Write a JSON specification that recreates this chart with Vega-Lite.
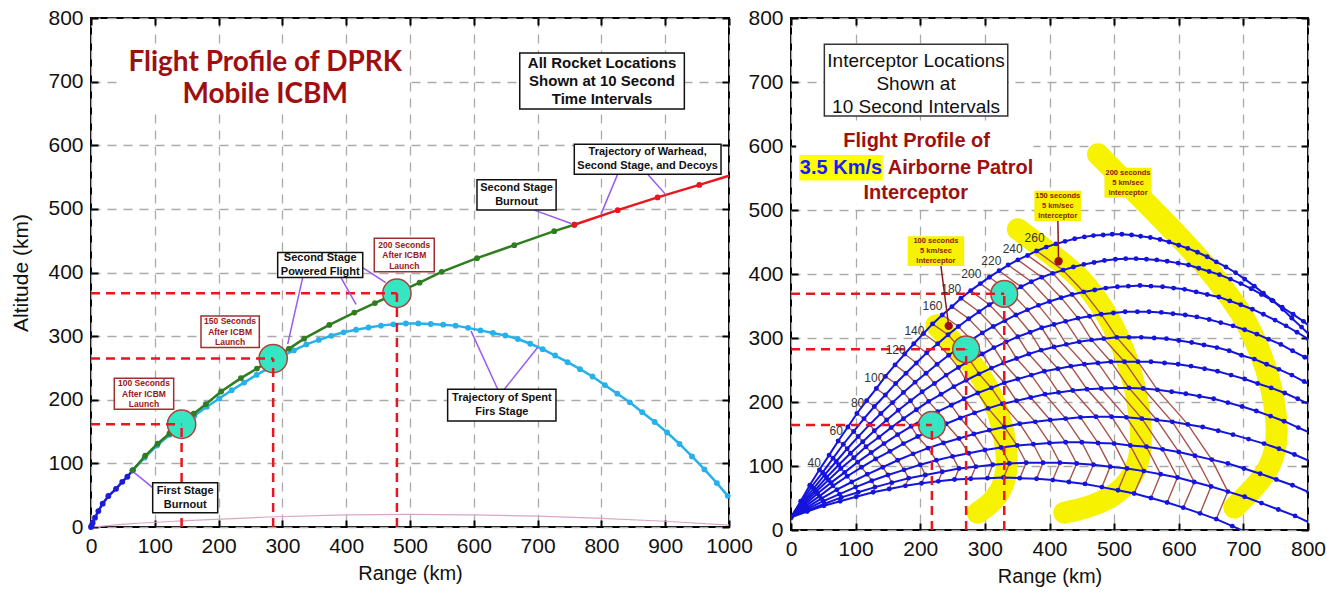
{
  "$schema": "https://vega.github.io/schema/vega-lite/v6.json",
  "background": "white",
  "padding": {"left": 9, "top": 6, "right": 5, "bottom": 5},
  "spacing": 62,
  "bounds": "flush",
  "config": {
    "view": {"stroke": "#000", "strokeWidth": 2},
    "axis": {
      "labelFont": "Liberation Sans, Arial, sans-serif",
      "labelFontSize": 21, "labelColor": "#111",
      "titleFont": "Liberation Sans, Arial, sans-serif", "titleFontSize": 20, "titleFontWeight": "normal", "titleColor": "#111",
      "grid": true, "gridColor": "#aaaaaa", "gridDash": [9, 7], "gridWidth": 1.3,
      "domain": false, "ticks": true, "tickSize": -7, "tickWidth": 2, "tickColor": "#000",
      "labelPadding": 15, "labelFlush": false, "labelOverlap": false, "format": "d"
    },
    "text": {"font": "Liberation Sans, Arial, sans-serif"}
  },
  "datasets": {
    "lmain": [
      {"s":"b","x":0,"y":0},{"s":"b","x":1,"y":2},{"s":"b","x":2.6,"y":6.8},{"s":"b","x":6.3,"y":14.7},{"s":"b","x":11.5,"y":25},{"s":"b","x":18.3,"y":36.7},{"s":"b","x":27.2,"y":48.7},{"s":"b","x":39.2,"y":60},{"s":"b","x":49,"y":71},{"s":"b","x":57,"y":79},{"s":"b","x":65.3,"y":89.1},
      {"s":"g","x":65.3,"y":89.1},{"s":"g","x":85,"y":112},{"s":"g","x":104.5,"y":131},{"s":"g","x":123,"y":147},{"s":"g","x":141,"y":161.5},{"s":"g","x":161,"y":178},{"s":"g","x":180,"y":193},{"s":"g","x":204,"y":213},{"s":"g","x":235,"y":234},{"s":"g","x":260,"y":249},{"s":"g","x":286,"y":265},{"s":"g","x":310,"y":280},{"s":"g","x":334,"y":296},{"s":"g","x":373.5,"y":317.6},{"s":"g","x":412.7,"y":337},{"s":"g","x":445,"y":352},{"s":"g","x":478,"y":367.4},{"s":"g","x":515,"y":384},{"s":"g","x":549.6,"y":401},{"s":"g","x":605,"y":422.5},{"s":"g","x":663.5,"y":443},{"s":"g","x":726,"y":465},{"s":"g","x":757.6,"y":475},
      {"s":"r","x":757.6,"y":475},{"s":"r","x":825.5,"y":498},{"s":"r","x":888,"y":518},{"s":"r","x":953.5,"y":537.7},{"s":"r","x":1000,"y":552}
    ],
    "lspent": [
      {"x":65,"y":89},{"x":84,"y":109},{"x":103.5,"y":128},{"x":123,"y":145},{"x":142.5,"y":160},{"x":162,"y":175},{"x":181.5,"y":189},{"x":201,"y":202},{"x":220.5,"y":215},{"x":240,"y":227},{"x":259.5,"y":239},{"x":279,"y":250},{"x":298.5,"y":268},{"x":318,"y":277.5},{"x":337.5,"y":287},{"x":357,"y":294},{"x":376.5,"y":300.5},{"x":396,"y":306},{"x":415.5,"y":310},{"x":435,"y":313.5},{"x":454.5,"y":316.5},{"x":474,"y":318.5},{"x":493.5,"y":319.8},{"x":513,"y":320},{"x":532.5,"y":319},{"x":552,"y":318},{"x":571.5,"y":316.5},{"x":591,"y":313},{"x":610.5,"y":309},{"x":630,"y":305},{"x":649.5,"y":301},{"x":669,"y":295.5},{"x":688.5,"y":288},{"x":708,"y":279.5},{"x":727.5,"y":269.5},{"x":747,"y":259},{"x":766.5,"y":248},{"x":786,"y":236.5},{"x":805.5,"y":223},{"x":825,"y":209.5},{"x":844.5,"y":196},{"x":864,"y":180.5},{"x":883.5,"y":165},{"x":903,"y":148.5},{"x":922.5,"y":130.5},{"x":942,"y":111},{"x":961.5,"y":90.5},{"x":981,"y":69},{"x":998,"y":49}
    ],
    "lpink": [{"x":0,"y":0},{"x":60,"y":5},{"x":150,"y":10},{"x":277,"y":15.7},{"x":400,"y":19},{"x":500,"y":20},{"x":600,"y":19},{"x":700,"y":17},{"x":800,"y":13.6},{"x":900,"y":9},{"x":1000,"y":3}],
    "lcirc": [{"x":142,"y":161.5},{"x":285.5,"y":264.7},{"x":479.5,"y":367.4}],
    "ldash": [
      {"x":0,"x2":142,"y":161.5,"y2":161.5},{"x":142,"x2":142,"y":0,"y2":161.5},
      {"x":0,"x2":285.5,"y":264.7,"y2":264.7},{"x":285.5,"x2":285.5,"y":0,"y2":264.7},
      {"x":0,"x2":479.5,"y":367.4,"y2":367.4},{"x":479.5,"x2":479.5,"y":0,"y2":367.4}
    ],
    "larrow": [
      {"x":96.7,"y":61.8,"x2":67.9,"y2":85.4},
      {"x":331.8,"y":392,"x2":308.3,"y2":287.3},
      {"x":391.8,"y":392,"x2":415.4,"y2":350},
      {"x":425.8,"y":407.7,"x2":462,"y2":384},
      {"x":694.8,"y":498,"x2":752.4,"y2":477},
      {"x":825.5,"y":554.6,"x2":799.4,"y2":491.7},
      {"x":872.5,"y":554.6,"x2":901.3,"y2":522},
      {"x":637.5,"y":216.5,"x2":595.6,"y2":308.2},
      {"x":647.8,"y":216.5,"x2":700,"y2":282}
    ],
    "lboxk": [
      {"x":672,"x2":930,"y":657,"y2":745},
      {"x":605,"x2":729,"y":498.4,"y2":545.6},
      {"x":757.5,"x2":987.5,"y":554.6,"y2":601.7},
      {"x":292.6,"x2":425.9,"y":392,"y2":431.3},
      {"x":96.7,"x2":198.6,"y":22.5,"y2":69.7},
      {"x":559,"x2":728.8,"y":166.7,"y2":216.5}
    ],
    "lboxr": [
      {"x":444,"x2":538,"y":401,"y2":454},
      {"x":172.4,"x2":263.8,"y":282,"y2":331.8},
      {"x":36.5,"x2":129.6,"y":185,"y2":233.8}
    ],
    "ltxtk": [
      {"x":667,"y":533,"lab":"Second Stage\nBurnout"},
      {"x":872.5,"y":589.2,"lab":"Trajectory of Warhead,\nSecond Stage, and Decoys"},
      {"x":359.3,"y":422.7,"lab":"Second Stage\nPowered Flight"},
      {"x":147.7,"y":57.1,"lab":"First Stage\nBurnout"},
      {"x":644,"y":202.6,"lab":"Trajectory of Spent\nFirs Stage"}
    ],
    "ltxtr": [
      {"x":491,"y":444,"lab":"200 Seconds\nAfter ICBM\nLaunch"},
      {"x":218,"y":323.5,"lab":"150 Seconds\nAfter ICBM\nLaunch"},
      {"x":83,"y":225.9,"lab":"100 Seconds\nAfter ICBM\nLaunch"}
    ],
    "traj": [
      {"k":1,"t":0,"x":0,"y":20},{"k":1,"t":10,"x":15,"y":45},{"k":1,"t":20,"x":29,"y":70},{"k":1,"t":30,"x":44,"y":94},{"k":1,"t":40,"x":59,"y":117},{"k":1,"t":50,"x":73,"y":139},{"k":1,"t":60,"x":88,"y":161},{"k":1,"t":70,"x":102,"y":182},{"k":1,"t":80,"x":117,"y":202},{"k":1,"t":90,"x":132,"y":221},{"k":1,"t":100,"x":146,"y":240},{"k":1,"t":110,"x":161,"y":258},{"k":1,"t":120,"x":176,"y":275},{"k":1,"t":130,"x":190,"y":291},{"k":1,"t":140,"x":205,"y":307},{"k":1,"t":150,"x":219,"y":322},{"k":1,"t":160,"x":234,"y":336},{"k":1,"t":170,"x":249,"y":349},{"k":1,"t":180,"x":263,"y":362},{"k":1,"t":190,"x":278,"y":374},{"k":1,"t":200,"x":293,"y":385},{"k":1,"t":210,"x":307,"y":395},{"k":1,"t":220,"x":322,"y":405},{"k":1,"t":230,"x":336,"y":414},{"k":1,"t":240,"x":351,"y":422},{"k":1,"t":250,"x":366,"y":429},{"k":1,"t":260,"x":380,"y":436},{"k":1,"t":270,"x":395,"y":442},{"k":1,"t":280,"x":410,"y":447},{"k":1,"t":290,"x":424,"y":451},{"k":1,"t":300,"x":439,"y":455},{"k":1,"t":310,"x":454,"y":458},{"k":1,"t":320,"x":468,"y":460},{"k":1,"t":330,"x":483,"y":461},{"k":1,"t":340,"x":497,"y":462},{"k":1,"t":350,"x":512,"y":462},{"k":1,"t":360,"x":527,"y":461},{"k":1,"t":370,"x":541,"y":459},{"k":1,"t":380,"x":556,"y":457},{"k":1,"t":390,"x":571,"y":454},{"k":1,"t":400,"x":585,"y":450},{"k":1,"t":410,"x":600,"y":445},{"k":1,"t":420,"x":614,"y":440},{"k":1,"t":430,"x":629,"y":434},{"k":1,"t":440,"x":644,"y":427},{"k":1,"t":450,"x":658,"y":419},{"k":1,"t":460,"x":673,"y":411},{"k":1,"t":470,"x":688,"y":402},{"k":1,"t":480,"x":702,"y":392},{"k":1,"t":490,"x":717,"y":381},{"k":1,"t":500,"x":731,"y":370},{"k":1,"t":510,"x":746,"y":358},{"k":1,"t":520,"x":761,"y":345},{"k":1,"t":530,"x":775,"y":331},{"k":1,"t":540,"x":790,"y":317},{"k":1,"t":550,"x":805,"y":302},
      {"k":2,"t":0,"x":0,"y":20},{"k":2,"t":10,"x":16,"y":44},{"k":2,"t":20,"x":32,"y":68},{"k":2,"t":30,"x":49,"y":90},{"k":2,"t":40,"x":65,"y":112},{"k":2,"t":50,"x":81,"y":134},{"k":2,"t":60,"x":97,"y":154},{"k":2,"t":70,"x":113,"y":174},{"k":2,"t":80,"x":129,"y":193},{"k":2,"t":90,"x":146,"y":211},{"k":2,"t":100,"x":162,"y":229},{"k":2,"t":110,"x":178,"y":245},{"k":2,"t":120,"x":194,"y":261},{"k":2,"t":130,"x":210,"y":277},{"k":2,"t":140,"x":227,"y":291},{"k":2,"t":150,"x":243,"y":305},{"k":2,"t":160,"x":259,"y":318},{"k":2,"t":170,"x":275,"y":330},{"k":2,"t":180,"x":291,"y":341},{"k":2,"t":190,"x":307,"y":352},{"k":2,"t":200,"x":324,"y":362},{"k":2,"t":210,"x":340,"y":371},{"k":2,"t":220,"x":356,"y":380},{"k":2,"t":230,"x":372,"y":388},{"k":2,"t":240,"x":388,"y":395},{"k":2,"t":250,"x":405,"y":401},{"k":2,"t":260,"x":421,"y":406},{"k":2,"t":270,"x":437,"y":411},{"k":2,"t":280,"x":453,"y":415},{"k":2,"t":290,"x":469,"y":418},{"k":2,"t":300,"x":485,"y":421},{"k":2,"t":310,"x":502,"y":423},{"k":2,"t":320,"x":518,"y":424},{"k":2,"t":330,"x":534,"y":424},{"k":2,"t":340,"x":550,"y":423},{"k":2,"t":350,"x":566,"y":422},{"k":2,"t":360,"x":582,"y":420},{"k":2,"t":370,"x":599,"y":417},{"k":2,"t":380,"x":615,"y":414},{"k":2,"t":390,"x":631,"y":409},{"k":2,"t":400,"x":647,"y":404},{"k":2,"t":410,"x":663,"y":399},{"k":2,"t":420,"x":680,"y":392},{"k":2,"t":430,"x":696,"y":385},{"k":2,"t":440,"x":712,"y":377},{"k":2,"t":450,"x":728,"y":368},{"k":2,"t":460,"x":744,"y":359},{"k":2,"t":470,"x":760,"y":348},{"k":2,"t":480,"x":777,"y":337},{"k":2,"t":490,"x":793,"y":326},{"k":2,"t":500,"x":809,"y":313},
      {"k":3,"t":0,"x":0,"y":20},{"k":3,"t":10,"x":17,"y":43},{"k":3,"t":20,"x":35,"y":65},{"k":3,"t":30,"x":52,"y":86},{"k":3,"t":40,"x":70,"y":107},{"k":3,"t":50,"x":87,"y":127},{"k":3,"t":60,"x":104,"y":146},{"k":3,"t":70,"x":122,"y":165},{"k":3,"t":80,"x":139,"y":182},{"k":3,"t":90,"x":157,"y":199},{"k":3,"t":100,"x":174,"y":215},{"k":3,"t":110,"x":192,"y":231},{"k":3,"t":120,"x":209,"y":245},{"k":3,"t":130,"x":226,"y":259},{"k":3,"t":140,"x":244,"y":273},{"k":3,"t":150,"x":261,"y":285},{"k":3,"t":160,"x":279,"y":297},{"k":3,"t":170,"x":296,"y":308},{"k":3,"t":180,"x":313,"y":318},{"k":3,"t":190,"x":331,"y":327},{"k":3,"t":200,"x":348,"y":336},{"k":3,"t":210,"x":366,"y":344},{"k":3,"t":220,"x":383,"y":351},{"k":3,"t":230,"x":400,"y":357},{"k":3,"t":240,"x":418,"y":363},{"k":3,"t":250,"x":435,"y":368},{"k":3,"t":260,"x":453,"y":372},{"k":3,"t":270,"x":470,"y":375},{"k":3,"t":280,"x":487,"y":378},{"k":3,"t":290,"x":505,"y":380},{"k":3,"t":300,"x":522,"y":381},{"k":3,"t":310,"x":540,"y":382},{"k":3,"t":320,"x":557,"y":381},{"k":3,"t":330,"x":575,"y":380},{"k":3,"t":340,"x":592,"y":378},{"k":3,"t":350,"x":609,"y":376},{"k":3,"t":360,"x":627,"y":372},{"k":3,"t":370,"x":644,"y":368},{"k":3,"t":380,"x":662,"y":364},{"k":3,"t":390,"x":679,"y":358},{"k":3,"t":400,"x":696,"y":352},{"k":3,"t":410,"x":714,"y":345},{"k":3,"t":420,"x":731,"y":337},{"k":3,"t":430,"x":749,"y":328},{"k":3,"t":440,"x":766,"y":319},{"k":3,"t":450,"x":783,"y":309},{"k":3,"t":460,"x":801,"y":298},
      {"k":4,"t":0,"x":0,"y":20},{"k":4,"t":10,"x":18,"y":42},{"k":4,"t":20,"x":37,"y":62},{"k":4,"t":30,"x":55,"y":82},{"k":4,"t":40,"x":74,"y":102},{"k":4,"t":50,"x":92,"y":120},{"k":4,"t":60,"x":111,"y":138},{"k":4,"t":70,"x":129,"y":155},{"k":4,"t":80,"x":148,"y":172},{"k":4,"t":90,"x":166,"y":187},{"k":4,"t":100,"x":185,"y":202},{"k":4,"t":110,"x":203,"y":216},{"k":4,"t":120,"x":222,"y":229},{"k":4,"t":130,"x":240,"y":242},{"k":4,"t":140,"x":259,"y":254},{"k":4,"t":150,"x":277,"y":265},{"k":4,"t":160,"x":296,"y":275},{"k":4,"t":170,"x":314,"y":285},{"k":4,"t":180,"x":333,"y":294},{"k":4,"t":190,"x":351,"y":302},{"k":4,"t":200,"x":370,"y":309},{"k":4,"t":210,"x":388,"y":316},{"k":4,"t":220,"x":407,"y":321},{"k":4,"t":230,"x":425,"y":326},{"k":4,"t":240,"x":444,"y":331},{"k":4,"t":250,"x":462,"y":334},{"k":4,"t":260,"x":480,"y":337},{"k":4,"t":270,"x":499,"y":339},{"k":4,"t":280,"x":517,"y":341},{"k":4,"t":290,"x":536,"y":341},{"k":4,"t":300,"x":554,"y":341},{"k":4,"t":310,"x":573,"y":340},{"k":4,"t":320,"x":591,"y":338},{"k":4,"t":330,"x":610,"y":336},{"k":4,"t":340,"x":628,"y":333},{"k":4,"t":350,"x":647,"y":329},{"k":4,"t":360,"x":665,"y":324},{"k":4,"t":370,"x":684,"y":319},{"k":4,"t":380,"x":702,"y":313},{"k":4,"t":390,"x":721,"y":306},{"k":4,"t":400,"x":739,"y":298},{"k":4,"t":410,"x":758,"y":290},{"k":4,"t":420,"x":776,"y":280},{"k":4,"t":430,"x":795,"y":270},{"k":4,"t":440,"x":813,"y":260},
      {"k":5,"t":0,"x":0,"y":20},{"k":5,"t":10,"x":19,"y":40},{"k":5,"t":20,"x":39,"y":60},{"k":5,"t":30,"x":58,"y":78},{"k":5,"t":40,"x":77,"y":96},{"k":5,"t":50,"x":97,"y":113},{"k":5,"t":60,"x":116,"y":130},{"k":5,"t":70,"x":136,"y":145},{"k":5,"t":80,"x":155,"y":160},{"k":5,"t":90,"x":174,"y":174},{"k":5,"t":100,"x":194,"y":188},{"k":5,"t":110,"x":213,"y":201},{"k":5,"t":120,"x":232,"y":212},{"k":5,"t":130,"x":252,"y":224},{"k":5,"t":140,"x":271,"y":234},{"k":5,"t":150,"x":291,"y":244},{"k":5,"t":160,"x":310,"y":253},{"k":5,"t":170,"x":329,"y":261},{"k":5,"t":180,"x":349,"y":268},{"k":5,"t":190,"x":368,"y":275},{"k":5,"t":200,"x":387,"y":281},{"k":5,"t":210,"x":407,"y":286},{"k":5,"t":220,"x":426,"y":290},{"k":5,"t":230,"x":446,"y":294},{"k":5,"t":240,"x":465,"y":297},{"k":5,"t":250,"x":484,"y":299},{"k":5,"t":260,"x":504,"y":301},{"k":5,"t":270,"x":523,"y":301},{"k":5,"t":280,"x":542,"y":301},{"k":5,"t":290,"x":562,"y":300},{"k":5,"t":300,"x":581,"y":299},{"k":5,"t":310,"x":600,"y":296},{"k":5,"t":320,"x":620,"y":293},{"k":5,"t":330,"x":639,"y":289},{"k":5,"t":340,"x":659,"y":285},{"k":5,"t":350,"x":678,"y":280},{"k":5,"t":360,"x":697,"y":273},{"k":5,"t":370,"x":717,"y":267},{"k":5,"t":380,"x":736,"y":259},{"k":5,"t":390,"x":755,"y":251},{"k":5,"t":400,"x":775,"y":242},{"k":5,"t":410,"x":794,"y":232},{"k":5,"t":420,"x":814,"y":221},
      {"k":6,"t":0,"x":0,"y":20},{"k":6,"t":10,"x":21,"y":39},{"k":6,"t":20,"x":41,"y":57},{"k":6,"t":30,"x":62,"y":74},{"k":6,"t":40,"x":83,"y":90},{"k":6,"t":50,"x":103,"y":106},{"k":6,"t":60,"x":124,"y":121},{"k":6,"t":70,"x":144,"y":135},{"k":6,"t":80,"x":165,"y":149},{"k":6,"t":90,"x":186,"y":162},{"k":6,"t":100,"x":206,"y":174},{"k":6,"t":110,"x":227,"y":185},{"k":6,"t":120,"x":248,"y":195},{"k":6,"t":130,"x":268,"y":205},{"k":6,"t":140,"x":289,"y":214},{"k":6,"t":150,"x":310,"y":222},{"k":6,"t":160,"x":330,"y":230},{"k":6,"t":170,"x":351,"y":236},{"k":6,"t":180,"x":372,"y":242},{"k":6,"t":190,"x":392,"y":248},{"k":6,"t":200,"x":413,"y":252},{"k":6,"t":210,"x":433,"y":256},{"k":6,"t":220,"x":454,"y":259},{"k":6,"t":230,"x":475,"y":261},{"k":6,"t":240,"x":495,"y":263},{"k":6,"t":250,"x":516,"y":263},{"k":6,"t":260,"x":537,"y":263},{"k":6,"t":270,"x":557,"y":263},{"k":6,"t":280,"x":578,"y":261},{"k":6,"t":290,"x":599,"y":259},{"k":6,"t":300,"x":619,"y":256},{"k":6,"t":310,"x":640,"y":252},{"k":6,"t":320,"x":660,"y":248},{"k":6,"t":330,"x":681,"y":242},{"k":6,"t":340,"x":702,"y":236},{"k":6,"t":350,"x":722,"y":229},{"k":6,"t":360,"x":743,"y":222},{"k":6,"t":370,"x":764,"y":214},{"k":6,"t":380,"x":784,"y":205},{"k":6,"t":390,"x":805,"y":195},
      {"k":7,"t":0,"x":0,"y":20},{"k":7,"t":10,"x":22,"y":37},{"k":7,"t":20,"x":44,"y":53},{"k":7,"t":30,"x":65,"y":69},{"k":7,"t":40,"x":87,"y":84},{"k":7,"t":50,"x":109,"y":98},{"k":7,"t":60,"x":131,"y":111},{"k":7,"t":70,"x":153,"y":123},{"k":7,"t":80,"x":174,"y":135},{"k":7,"t":90,"x":196,"y":146},{"k":7,"t":100,"x":218,"y":157},{"k":7,"t":110,"x":240,"y":166},{"k":7,"t":120,"x":262,"y":175},{"k":7,"t":130,"x":284,"y":183},{"k":7,"t":140,"x":305,"y":190},{"k":7,"t":150,"x":327,"y":197},{"k":7,"t":160,"x":349,"y":202},{"k":7,"t":170,"x":371,"y":207},{"k":7,"t":180,"x":393,"y":212},{"k":7,"t":190,"x":414,"y":215},{"k":7,"t":200,"x":436,"y":218},{"k":7,"t":210,"x":458,"y":220},{"k":7,"t":220,"x":480,"y":221},{"k":7,"t":230,"x":502,"y":222},{"k":7,"t":240,"x":523,"y":222},{"k":7,"t":250,"x":545,"y":221},{"k":7,"t":260,"x":567,"y":219},{"k":7,"t":270,"x":589,"y":216},{"k":7,"t":280,"x":611,"y":213},{"k":7,"t":290,"x":632,"y":209},{"k":7,"t":300,"x":654,"y":205},{"k":7,"t":310,"x":676,"y":199},{"k":7,"t":320,"x":698,"y":193},{"k":7,"t":330,"x":720,"y":186},{"k":7,"t":340,"x":742,"y":178},{"k":7,"t":350,"x":763,"y":170},{"k":7,"t":360,"x":785,"y":160},{"k":7,"t":370,"x":807,"y":150},
      {"k":8,"t":0,"x":0,"y":20},{"k":8,"t":10,"x":24,"y":35},{"k":8,"t":20,"x":47,"y":49},{"k":8,"t":30,"x":71,"y":63},{"k":8,"t":40,"x":94,"y":75},{"k":8,"t":50,"x":118,"y":87},{"k":8,"t":60,"x":142,"y":98},{"k":8,"t":70,"x":165,"y":109},{"k":8,"t":80,"x":189,"y":119},{"k":8,"t":90,"x":212,"y":128},{"k":8,"t":100,"x":236,"y":136},{"k":8,"t":110,"x":260,"y":143},{"k":8,"t":120,"x":283,"y":150},{"k":8,"t":130,"x":307,"y":156},{"k":8,"t":140,"x":330,"y":161},{"k":8,"t":150,"x":354,"y":166},{"k":8,"t":160,"x":378,"y":169},{"k":8,"t":170,"x":401,"y":172},{"k":8,"t":180,"x":425,"y":174},{"k":8,"t":190,"x":448,"y":176},{"k":8,"t":200,"x":472,"y":177},{"k":8,"t":210,"x":496,"y":177},{"k":8,"t":220,"x":519,"y":176},{"k":8,"t":230,"x":543,"y":174},{"k":8,"t":240,"x":566,"y":172},{"k":8,"t":250,"x":590,"y":169},{"k":8,"t":260,"x":614,"y":165},{"k":8,"t":270,"x":637,"y":161},{"k":8,"t":280,"x":661,"y":155},{"k":8,"t":290,"x":684,"y":149},{"k":8,"t":300,"x":708,"y":142},{"k":8,"t":310,"x":732,"y":135},{"k":8,"t":320,"x":755,"y":127},{"k":8,"t":330,"x":779,"y":118},{"k":8,"t":340,"x":802,"y":108},
      {"k":9,"t":0,"x":0,"y":20},{"k":9,"t":10,"x":25,"y":33},{"k":9,"t":20,"x":50,"y":45},{"k":9,"t":30,"x":75,"y":56},{"k":9,"t":40,"x":100,"y":67},{"k":9,"t":50,"x":125,"y":77},{"k":9,"t":60,"x":150,"y":86},{"k":9,"t":70,"x":175,"y":94},{"k":9,"t":80,"x":200,"y":102},{"k":9,"t":90,"x":225,"y":109},{"k":9,"t":100,"x":250,"y":115},{"k":9,"t":110,"x":275,"y":120},{"k":9,"t":120,"x":300,"y":125},{"k":9,"t":130,"x":325,"y":129},{"k":9,"t":140,"x":350,"y":132},{"k":9,"t":150,"x":375,"y":134},{"k":9,"t":160,"x":400,"y":136},{"k":9,"t":170,"x":425,"y":137},{"k":9,"t":180,"x":450,"y":137},{"k":9,"t":190,"x":475,"y":136},{"k":9,"t":200,"x":500,"y":135},{"k":9,"t":210,"x":525,"y":132},{"k":9,"t":220,"x":550,"y":130},{"k":9,"t":230,"x":575,"y":126},{"k":9,"t":240,"x":600,"y":122},{"k":9,"t":250,"x":625,"y":116},{"k":9,"t":260,"x":651,"y":110},{"k":9,"t":270,"x":676,"y":104},{"k":9,"t":280,"x":701,"y":96},{"k":9,"t":290,"x":726,"y":88},{"k":9,"t":300,"x":751,"y":79},{"k":9,"t":310,"x":776,"y":70},{"k":9,"t":320,"x":801,"y":59},
      {"k":10,"t":0,"x":0,"y":20},{"k":10,"t":10,"x":26,"y":31},{"k":10,"t":20,"x":52,"y":41},{"k":10,"t":30,"x":78,"y":51},{"k":10,"t":40,"x":104,"y":59},{"k":10,"t":50,"x":130,"y":67},{"k":10,"t":60,"x":156,"y":74},{"k":10,"t":70,"x":182,"y":81},{"k":10,"t":80,"x":208,"y":86},{"k":10,"t":90,"x":234,"y":91},{"k":10,"t":100,"x":260,"y":96},{"k":10,"t":110,"x":286,"y":99},{"k":10,"t":120,"x":312,"y":102},{"k":10,"t":130,"x":338,"y":104},{"k":10,"t":140,"x":364,"y":105},{"k":10,"t":150,"x":390,"y":105},{"k":10,"t":160,"x":416,"y":105},{"k":10,"t":170,"x":442,"y":104},{"k":10,"t":180,"x":468,"y":102},{"k":10,"t":190,"x":494,"y":99},{"k":10,"t":200,"x":520,"y":96},{"k":10,"t":210,"x":546,"y":92},{"k":10,"t":220,"x":572,"y":87},{"k":10,"t":230,"x":598,"y":82},{"k":10,"t":240,"x":624,"y":75},{"k":10,"t":250,"x":650,"y":68},{"k":10,"t":260,"x":676,"y":60},{"k":10,"t":270,"x":702,"y":52},{"k":10,"t":280,"x":728,"y":42},{"k":10,"t":290,"x":754,"y":32},{"k":10,"t":300,"x":780,"y":22},{"k":10,"t":310,"x":806,"y":10},
      {"k":11,"t":0,"x":0,"y":20},{"k":11,"t":10,"x":25,"y":29},{"k":11,"t":20,"x":51,"y":38},{"k":11,"t":30,"x":76,"y":45},{"k":11,"t":40,"x":101,"y":52},{"k":11,"t":50,"x":127,"y":59},{"k":11,"t":60,"x":152,"y":64},{"k":11,"t":70,"x":177,"y":69},{"k":11,"t":80,"x":202,"y":73},{"k":11,"t":90,"x":228,"y":76},{"k":11,"t":100,"x":253,"y":79},{"k":11,"t":110,"x":278,"y":80},{"k":11,"t":120,"x":304,"y":81},{"k":11,"t":130,"x":329,"y":82},{"k":11,"t":140,"x":354,"y":81},{"k":11,"t":150,"x":380,"y":80},{"k":11,"t":160,"x":405,"y":78},{"k":11,"t":170,"x":430,"y":75},{"k":11,"t":180,"x":455,"y":72},{"k":11,"t":190,"x":481,"y":67},{"k":11,"t":200,"x":506,"y":62},{"k":11,"t":210,"x":531,"y":57},{"k":11,"t":220,"x":557,"y":50},{"k":11,"t":230,"x":582,"y":43},{"k":11,"t":240,"x":607,"y":35},{"k":11,"t":250,"x":633,"y":26},{"k":11,"t":260,"x":658,"y":17},{"k":11,"t":270,"x":683,"y":6},{"k":11,"t":280,"x":708,"y":-5}
    ],
    "bands": [
      {"b":"A","i":1,"x":225,"y":320},{"b":"A","i":2,"x":265,"y":278},{"b":"A","i":3,"x":294,"y":243},{"b":"A","i":4,"x":315,"y":202},{"b":"A","i":5,"x":328,"y":160},{"b":"A","i":6,"x":335,"y":118},{"b":"A","i":7,"x":333,"y":77},{"b":"A","i":8,"x":315,"y":45},{"b":"A","i":9,"x":289,"y":27},
      {"b":"B","i":1,"x":351,"y":470},{"b":"B","i":2,"x":418,"y":420},{"b":"B","i":3,"x":459,"y":384},{"b":"B","i":4,"x":500,"y":320},{"b":"B","i":5,"x":527,"y":250},{"b":"B","i":6,"x":541,"y":180},{"b":"B","i":7,"x":543,"y":120},{"b":"B","i":8,"x":528,"y":80},{"b":"B","i":9,"x":500,"y":52},{"b":"B","i":10,"x":460,"y":35},{"b":"B","i":11,"x":423,"y":27},
      {"b":"C","i":1,"x":475,"y":587},{"b":"C","i":2,"x":526,"y":535},{"b":"C","i":3,"x":588,"y":472},{"b":"C","i":4,"x":645,"y":410},{"b":"C","i":5,"x":676,"y":368},{"b":"C","i":6,"x":702,"y":332},{"b":"C","i":7,"x":728,"y":275},{"b":"C","i":8,"x":743,"y":228},{"b":"C","i":9,"x":756,"y":150},{"b":"C","i":10,"x":743,"y":97},{"b":"C","i":11,"x":712,"y":61},{"b":"C","i":12,"x":686,"y":35}
    ],
    "rdash": [
      {"x":0,"x2":218,"y":164,"y2":164},{"x":218,"x2":218,"y":0,"y2":164},
      {"x":0,"x2":271,"y":282.3,"y2":282.3},{"x":271,"x2":271,"y":0,"y2":282.3},
      {"x":0,"x2":330,"y":369,"y2":369},{"x":330,"x2":330,"y":0,"y2":369}
    ],
    "rcirc": [{"x":218,"y":164},{"x":271,"y":282.3},{"x":330,"y":369}],
    "rstem": [{"x":232,"y":412.5,"x2":244,"y2":319},{"x":413,"y":483,"x2":414,"y2":420}],
    "rdot": [{"x":244,"y":319},{"x":414,"y":420}],
    "rybox": [
      {"x":180.6,"x2":268,"y":412.5,"y2":459},
      {"x":376.6,"x2":449,"y":483,"y2":530},
      {"x":485,"x2":558,"y":519,"y2":566}
    ],
    "rytxt": [
      {"x":224.3,"y":451.4,"lab":"100 seconds\n5 km/sec\nInterceptor"},
      {"x":412.8,"y":522.1,"lab":"150 seconds\n5 km/sec\nInterceptor"},
      {"x":521.5,"y":558.1,"lab":"200 seconds\n5 km/sec\nInterceptor"}
    ],
    "rtime": [
      {"lab":"40","x":36,"y":105},{"lab":"60","x":70,"y":155},{"lab":"80","x":103,"y":199},{"lab":"100","x":129,"y":238},{"lab":"120","x":162,"y":282},{"lab":"140","x":191,"y":311},{"lab":"160","x":219,"y":350},{"lab":"180","x":248,"y":376},{"lab":"200","x":279,"y":400},{"lab":"220","x":310,"y":420},{"lab":"240","x":343,"y":439},{"lab":"260","x":377,"y":457}
    ],
    "origin": [{"x":0,"y":0}]
  },
  "hconcat": [
    {
      "width": 638, "height": 509,
      "resolve": {"axis": {"x": "independent", "y": "independent"}},
      "layer": [
        {
          "encoding": {
            "x": {"field": "x", "type": "quantitative", "scale": {"domain": [0, 1000], "nice": false},
                  "axis": {"title": "Range (km)", "values": [0,100,200,300,400,500,600,700,800,900,1000], "titlePadding": 7}},
            "y": {"field": "y", "type": "quantitative", "scale": {"domain": [0, 800], "nice": false},
                  "axis": {"title": "Altitude (km)", "titleFontSize": 21, "values": [0,100,200,300,400,500,600,700,800], "titlePadding": 16}}
          },
          "layer": [
            {"data": {"values": [{"x":47,"x2":494,"y":654,"y2":759}]}, "mark": {"type": "rect", "fill": "white"},
             "encoding": {"x2": {"field": "x2"}, "y2": {"field": "y2"}}},
            {"data": {"name": "lpink"}, "mark": {"type": "line", "color": "#d9a6c6", "strokeWidth": 1.2, "interpolate": "monotone"}, "encoding": {}},
            {"data": {"name": "lspent"}, "mark": {"type": "line", "color": "#27b1ea", "strokeWidth": 2.5}, "encoding": {}},
            {"data": {"name": "lspent"}, "mark": {"type": "point", "filled": true, "opacity": 1, "color": "#27b1ea", "size": 34}, "encoding": {}},
            {"data": {"name": "lmain"}, "mark": {"type": "line", "strokeWidth": 2.5},
             "encoding": {"color": {"field": "s", "type": "nominal", "scale": {"domain": ["b","g","r"], "range": ["#1c1cd8","#2f7d1f","#e8161e"]}, "legend": null}}},
            {"data": {"name": "lmain"}, "transform": [{"filter": "datum.x < 1000"}], "mark": {"type": "point", "filled": true, "opacity": 1, "size": 34},
             "encoding": {"color": {"field": "s", "type": "nominal", "scale": {"domain": ["b","g","r"], "range": ["#1c1cd8","#2f7d1f","#e8161e"]}, "legend": null}}},
            {"data": {"name": "lcirc"}, "mark": {"type": "point", "filled": true, "opacity": 1, "fill": "#36e6c2", "stroke": "#b0403a", "strokeWidth": 1.5, "size": 800}, "encoding": {}},
            {"data": {"name": "ldash"}, "mark": {"type": "rule", "color": "#e8161e", "strokeWidth": 2.5, "strokeDash": [9, 6]},
             "encoding": {"x2": {"field": "x2"}, "y2": {"field": "y2"}}},
            {"data": {"name": "larrow"}, "mark": {"type": "rule", "color": "#9a5af0", "strokeWidth": 1.5},
             "encoding": {"x2": {"field": "x2"}, "y2": {"field": "y2"}}},
            {"data": {"name": "lboxk"}, "mark": {"type": "rect", "fill": "white", "stroke": "#111", "strokeWidth": 1.5},
             "encoding": {"x2": {"field": "x2"}, "y2": {"field": "y2"}}},
            {"data": {"name": "lboxr"}, "mark": {"type": "rect", "fill": "white", "stroke": "#a03030", "strokeWidth": 1.5},
             "encoding": {"x2": {"field": "x2"}, "y2": {"field": "y2"}}},
            {"data": {"name": "ltxtk"}, "mark": {"type": "text", "fontSize": 11, "fontWeight": "bold", "color": "#111", "lineBreak": "\n", "lineHeight": 14},
             "encoding": {"text": {"field": "lab"}}},
            {"data": {"values": [{"x":801,"y":729.3,"lab":"All Rocket Locations\nShown at 10 Second\nTime Intervals"}]},
             "mark": {"type": "text", "fontSize": 15, "fontWeight": "bold", "color": "#111", "lineBreak": "\n", "lineHeight": 18},
             "encoding": {"text": {"field": "lab"}}},
            {"data": {"name": "ltxtr"}, "mark": {"type": "text", "fontSize": 8.5, "fontWeight": "bold", "color": "#a01515", "lineBreak": "\n", "lineHeight": 10.5},
             "encoding": {"text": {"field": "lab"}}},
            {"data": {"values": [{"x":273,"y":730,"lab":"Flight Profile of DPRK\nMobile ICBM"}]},
             "mark": {"type": "text", "font": "Lato, Open Sans, sans-serif", "fontSize": 28, "fontWeight": "bold", "color": "#9e1010", "lineBreak": "\n", "lineHeight": 32},
             "encoding": {"text": {"field": "lab"}}}
          ]
        },
        {
          "data": {"name": "origin"},
          "mark": {"type": "point", "opacity": 0},
          "encoding": {
            "x": {"field": "x", "type": "quantitative", "scale": {"domain": [0, 1000], "nice": false},
                  "axis": {"orient": "top", "labels": false, "grid": false, "title": null, "values": [0,100,200,300,400,500,600,700,800,900,1000]}},
            "y": {"field": "y", "type": "quantitative", "scale": {"domain": [0, 800], "nice": false},
                  "axis": {"orient": "right", "labels": false, "grid": false, "title": null, "values": [0,100,200,300,400,500,600,700,800]}}
          }
        }
      ]
    },
    {
      "width": 517, "height": 512,
      "resolve": {"axis": {"x": "independent", "y": "independent"}},
      "layer": [
        {
          "encoding": {
            "x": {"field": "x", "type": "quantitative", "scale": {"domain": [0, 800], "nice": false},
                  "axis": {"title": "Range (km)", "values": [0,100,200,300,400,500,600,700,800], "titlePadding": 7}},
            "y": {"field": "y", "type": "quantitative", "scale": {"domain": [0, 800], "nice": false},
                  "axis": {"title": null, "values": [0,100,200,300,400,500,600,700,800]}}
          },
          "layer": [
            {"data": {"values": [{"x":8,"x2":375,"y":510,"y2":640}]}, "mark": {"type": "rect", "fill": "white"},
             "encoding": {"x2": {"field": "x2"}, "y2": {"field": "y2"}}},
            {"data": {"name": "bands"}, "mark": {"type": "line", "color": "#f7f200", "strokeWidth": 22, "strokeCap": "round", "strokeJoin": "round", "interpolate": "basis"},
             "encoding": {"detail": {"field": "b"}, "order": {"field": "i"}}},
            {"data": {"name": "traj"}, "transform": [{"filter": "datum.t > 0 && datum.t <= 40"}], "mark": {"type": "line", "color": "#1a1ae0", "strokeWidth": 1, "clip": true},
             "encoding": {"detail": {"field": "t"}, "order": {"field": "k"}}},
            {"data": {"name": "traj"}, "transform": [{"filter": "datum.t > 40 && datum.t <= 260"}], "mark": {"type": "line", "color": "#a8524a", "strokeWidth": 1.4, "clip": true},
             "encoding": {"detail": {"field": "t"}, "order": {"field": "k"}}},
            {"data": {"name": "traj"}, "mark": {"type": "line", "color": "#1414dc", "strokeWidth": 2, "clip": true},
             "encoding": {"detail": {"field": "k"}, "order": {"field": "t"}}},
            {"data": {"name": "traj"}, "mark": {"type": "point", "filled": true, "opacity": 1, "color": "#1414dc", "size": 24, "clip": true}, "encoding": {}},
            {"data": {"name": "rcirc"}, "mark": {"type": "point", "filled": true, "opacity": 1, "fill": "#36e6c2", "stroke": "#b0403a", "strokeWidth": 1.5, "size": 720}, "encoding": {}},
            {"data": {"name": "rdash"}, "mark": {"type": "rule", "color": "#e8161e", "strokeWidth": 2.5, "strokeDash": [9, 6]},
             "encoding": {"x2": {"field": "x2"}, "y2": {"field": "y2"}}},
            {"data": {"name": "rstem"}, "mark": {"type": "rule", "color": "#8b1a1a", "strokeWidth": 1.5},
             "encoding": {"x2": {"field": "x2"}, "y2": {"field": "y2"}}},
            {"data": {"name": "rdot"}, "mark": {"type": "point", "filled": true, "opacity": 1, "color": "#a01010", "size": 70}, "encoding": {}},
            {"data": {"name": "rybox"}, "mark": {"type": "rect", "fill": "#f7f200"},
             "encoding": {"x2": {"field": "x2"}, "y2": {"field": "y2"}}},
            {"data": {"name": "rytxt"}, "mark": {"type": "text", "fontSize": 7.5, "fontWeight": "bold", "color": "#8b1a00", "lineBreak": "\n", "lineHeight": 10},
             "encoding": {"text": {"field": "lab"}}},
            {"data": {"name": "rtime"}, "mark": {"type": "text", "fontSize": 12, "color": "#333"},
             "encoding": {"text": {"field": "lab"}}},
            {"data": {"values": [{"x":51.6,"x2":335.4,"y":647,"y2":759}]}, "mark": {"type": "rect", "fill": "white", "stroke": "#333", "strokeWidth": 1.5},
             "encoding": {"x2": {"field": "x2"}, "y2": {"field": "y2"}}},
            {"data": {"values": [{"x":193.5,"y":733,"lab":"Interceptor Locations\nShown at\n10 Second Intervals"}]},
             "mark": {"type": "text", "fontSize": 19, "color": "#111", "lineBreak": "\n", "lineHeight": 23},
             "encoding": {"text": {"field": "lab"}}},
            {"data": {"values": [{"x":12.8,"x2":142,"y":546,"y2":586}]}, "mark": {"type": "rect", "fill": "#ffff00"},
             "encoding": {"x2": {"field": "x2"}, "y2": {"field": "y2"}}},
            {"data": {"values": [{"x":194.4,"y":607.8,"lab":"Flight Profile of"},{"x":193,"y":527,"lab":"Interceptor"}]},
             "mark": {"type": "text", "fontSize": 20, "fontWeight": "bold", "color": "#9e1010"},
             "encoding": {"text": {"field": "lab"}}},
            {"data": {"values": [{"x":149.7,"y":566,"lab":"Airborne Patrol"}]},
             "mark": {"type": "text", "fontSize": 20, "fontWeight": "bold", "color": "#9e1010", "align": "left"},
             "encoding": {"text": {"field": "lab"}}},
            {"data": {"values": [{"x":141,"y":566,"lab":"3.5 Km/s"}]},
             "mark": {"type": "text", "fontSize": 20, "fontWeight": "bold", "color": "#1a1aff", "align": "right"},
             "encoding": {"text": {"field": "lab"}}}
          ]
        },
        {
          "data": {"name": "origin"},
          "mark": {"type": "point", "opacity": 0},
          "encoding": {
            "x": {"field": "x", "type": "quantitative", "scale": {"domain": [0, 800], "nice": false},
                  "axis": {"orient": "top", "labels": false, "grid": false, "title": null, "values": [0,100,200,300,400,500,600,700,800]}},
            "y": {"field": "y", "type": "quantitative", "scale": {"domain": [0, 800], "nice": false},
                  "axis": {"orient": "right", "labels": false, "grid": false, "title": null, "values": [0,100,200,300,400,500,600,700,800]}}
          }
        }
      ]
    }
  ]
}
